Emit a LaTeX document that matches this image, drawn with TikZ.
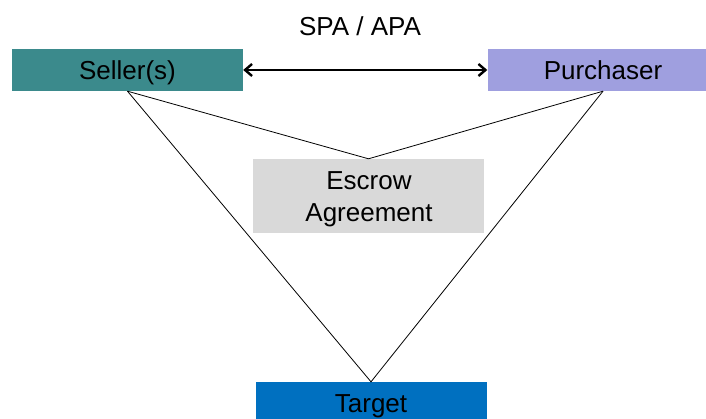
\documentclass[tikz,border=0pt]{standalone}
\usepackage{fontspec}
\setmainfont{Liberation Sans}
\usetikzlibrary{arrows.meta}
\definecolor{sellerteal}{HTML}{3B8A8C}
\definecolor{buyerlav}{HTML}{9F9FDF}
\definecolor{escrowgray}{HTML}{D9D9D9}
\definecolor{targetblue}{HTML}{0070C0}
\begin{document}
\begin{tikzpicture}[x=1pt,y=-1pt,
  txt/.style={font=\fontsize{26}{31}\selectfont,inner sep=0pt},
  party/.style={txt,draw=none,minimum width=231pt,minimum height=42pt,
    text height=19pt,text depth=0pt},
  link/.style={draw=black,line width=0.8pt},
  barb/.tip={Straight Barb[length=7pt,width=12pt,line width=2.4pt]}]
\useasboundingbox (0,0) rectangle (706,419);
% parties
\node[party,fill=sellerteal] (seller) at (127.5,70) {Seller(s)};
\node[party,fill=buyerlav] (buyer) at (603,70) {Purchaser};
\node[party,fill=escrowgray,minimum height=74pt] (escrow) at (368.5,196) {};
\node[party,fill=targetblue] (target) at (371,403) {Target};
% texts
\node[txt,anchor=base] (escrowA) at (369,190) {Escrow};
\node[txt,anchor=base] (escrowB) at (369,222) {Agreement};
\node[txt,text height=19pt,text depth=0pt] (spa) at (360,26) {SPA / APA};
% purchase agreement
\draw[line width=2.6pt,barb-barb] (seller.east) -- (buyer.west);
% escrow and target links
\draw[link] (seller.south) -- (escrow.north) -- (buyer.south);
\draw[link] (seller.south) -- (target.north) -- (buyer.south);
\end{tikzpicture}
\end{document}
